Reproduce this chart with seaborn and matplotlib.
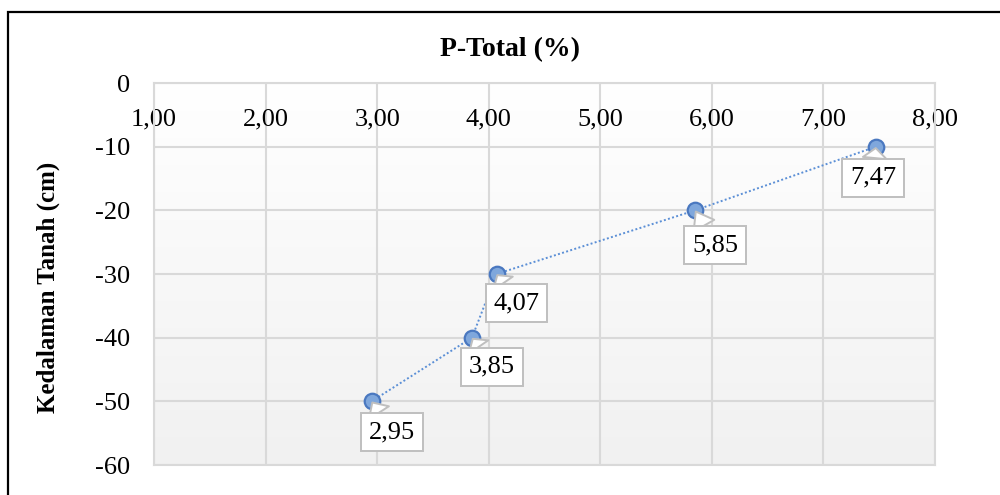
import numpy as np
import pandas as pd
import matplotlib
matplotlib.use("Agg")
import matplotlib.pyplot as plt
import seaborn as sns
from matplotlib.ticker import FuncFormatter, FixedLocator
from matplotlib.patches import Rectangle
from matplotlib.colors import LinearSegmentedColormap

# ---- data ----
p_total = [7.47, 5.85, 4.07, 3.85, 2.95]
depth = [-10, -20, -30, -40, -50]
value_labels = ["7,47", "5,85", "4,07", "3,85", "2,95"]
x_ticks = [1, 2, 3, 4, 5, 6, 7, 8]
y_ticks = [0, -10, -20, -30, -40, -50, -60]
title = "P-Total (%)"
ylabel = "Kedalaman Tanah (cm)"

df = pd.DataFrame({"p": p_total, "d": depth, "lab": value_labels})

sns.set_theme(style="white")
plt.rcParams["font.family"] = ["Liberation Serif", "DejaVu Serif"]
plt.rcParams["text.color"] = "black"

fig = plt.figure(figsize=(10, 4.95), dpi=100)
ax = fig.add_axes([0.154, 0.0606, 0.781, 0.7717])

# gradient background of plot area
cmap = LinearSegmentedColormap.from_list("bg", ["#ffffff", "#f1f1f1"])
ax.imshow(np.linspace(0, 1, 256).reshape(-1, 1), cmap=cmap, aspect="auto",
          extent=[0, 1, 0, 1], transform=ax.transAxes, zorder=0)

line_color = "#5b8fd6"
sns.lineplot(data=df, x="p", y="d", sort=False, ax=ax, color=line_color,
             linestyle=(0, (1, 1.2)), linewidth=1.4, zorder=3)
sns.scatterplot(data=df, x="p", y="d", ax=ax, s=125, color="#7fa7dc",
                edgecolor="#4a78c0", linewidth=1.6, zorder=4)

offsets = [(-3, -31), (20, -35), (20, -29), (20, -29), (20, -31)]
for (x, y, lab), (dx, dy) in zip(df[["p", "d", "lab"]].values, offsets):
    ax.annotate(lab, xy=(x, y), xytext=(dx * 0.72, dy * 0.72), textcoords="offset points",
                ha="center", va="center", fontsize=19, color="black", zorder=6,
                bbox=dict(boxstyle="square,pad=0.3", fc="white", ec="#bfbfbf", lw=1.4),
                arrowprops=dict(arrowstyle="wedge,tail_width=0.9", fc="white",
                                ec="#bfbfbf", lw=1.4, shrinkA=0, shrinkB=1))

ax.set_xlim(1, 8)
ax.set_ylim(-60, 0)
ax.xaxis.set_major_locator(FixedLocator(x_ticks))
ax.yaxis.set_major_locator(FixedLocator(y_ticks))
ax.xaxis.set_major_formatter(FuncFormatter(lambda v, p: f"{v:.2f}".replace(".", ",")))
ax.yaxis.set_major_formatter(FuncFormatter(lambda v, p: f"{int(round(v))}"))
ax.xaxis.tick_top()
ax.tick_params(axis="x", length=0, pad=-34, labelsize=19, colors="black")
ax.tick_params(axis="y", length=0, pad=17, labelsize=19, colors="black")
ax.set_xlabel("")
ax.set_ylabel("")
ax.grid(True, color="#d9d9d9", linewidth=1.5)
ax.set_axisbelow(True)
for s in ax.spines.values():
    s.set_color("#d9d9d9")
    s.set_linewidth(1.5)

fig.text(0.51, 1 - 50 / 495, title, ha="center", va="center", fontsize=20,
         fontweight="bold", color="black")
fig.text(0.048, 1 - 287 / 495, ylabel, ha="center", va="center", rotation=90,
         fontsize=18, fontweight="bold", color="black")

# outer chart border (cropped at right and bottom)
top = 1 - 12 / 495
fig.patches.append(Rectangle((0.008, -0.1), 1.1, top + 0.1,
                             transform=fig.transFigure, fill=False, ec="black", lw=1.6,
                             clip_on=False))

fig.savefig("out.png", dpi=100)
